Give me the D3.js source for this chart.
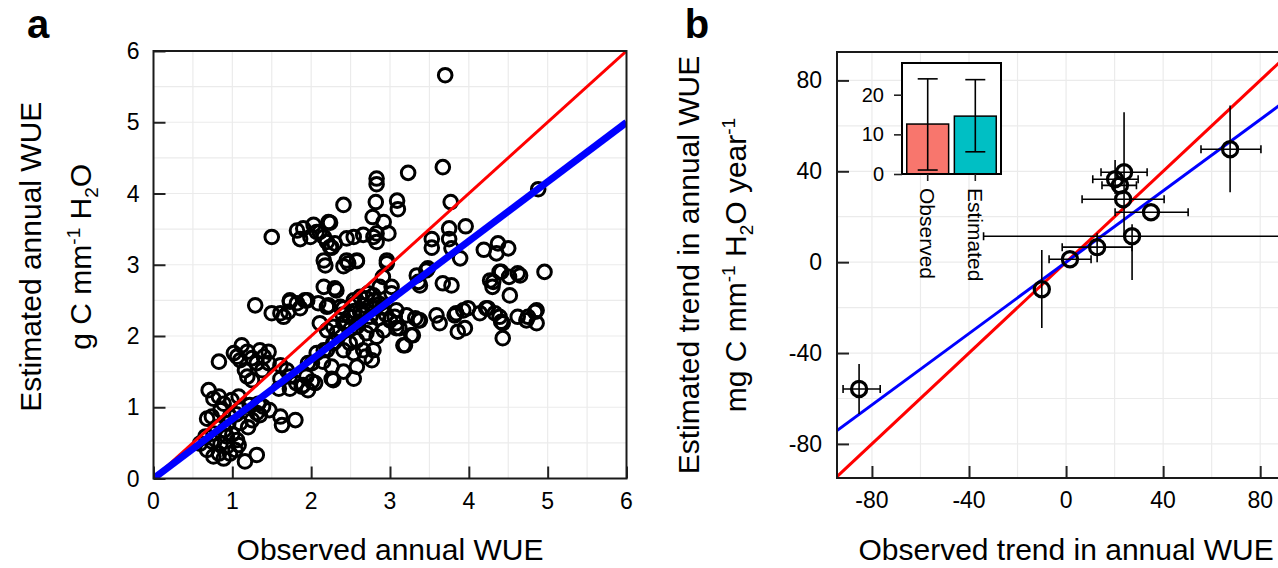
<!DOCTYPE html>
<html><head><meta charset="utf-8">
<script src="https://cdn.jsdelivr.net/npm/d3@7"></script>
<style>
body{margin:0;background:#fff}
svg{display:block}
text{font-family:"Liberation Sans",Arial,Helvetica,sans-serif;fill:#000}
</style>
</head><body>
<svg id="chart" width="1278" height="568"></svg>
<script>
// ---------- Panel a data: [observed, estimated] annual WUE ----------
const annualPoints = [
[3.70,5.66],[3.23,4.29],[3.67,4.37],[2.41,3.84],[2.83,4.21],[2.83,4.13],[2.82,3.88],[3.09,3.90],[3.10,3.78],[3.77,3.88],
[4.88,4.06],[2.78,3.67],[2.92,3.60],[2.24,3.59],[3.96,3.54],[3.75,3.51],[1.50,3.39],[1.82,3.48],[1.86,3.36],[2.03,3.56],
[2.07,3.46],[2.16,3.39],[2.20,3.32],[2.24,3.25],[2.45,3.37],[2.54,3.39],[2.66,3.42],[2.83,3.44],[2.98,3.44],[2.83,3.32],
[3.53,3.36],[3.53,3.24],[3.75,3.36],[3.78,3.23],[4.19,3.21],[4.37,3.30],[4.50,3.23],[4.35,3.16],[2.16,3.06],[2.45,3.06],
[2.58,3.06],[2.96,3.06],[3.89,3.09],[1.90,3.51],[2.11,3.46],[2.22,3.60],[1.99,3.39],[2.30,3.30],[2.26,3.24],[2.79,3.39],
[4.96,2.90],[4.41,2.90],[4.62,2.88],[4.27,2.78],[4.30,2.69],[4.51,2.83],[4.52,2.57],[3.34,2.85],[3.38,2.71],[3.46,2.92],
[3.67,2.74],[3.78,2.71],[3.36,2.76],[3.48,2.95],[4.31,2.76],[4.39,2.90],[4.65,2.85],
[3.08,2.36],[3.21,2.29],[3.36,2.22],[3.59,2.29],[3.63,2.18],[3.82,2.29],[3.99,2.39],[4.14,2.32],[4.24,2.39],[4.39,2.27],
[4.43,2.18],[4.62,2.27],[4.73,2.22],[4.86,2.36],[4.86,2.18],[3.86,2.06],[3.95,2.11],[4.43,1.97],[3.29,2.01],[3.19,1.87],
[3.84,2.32],[4.22,2.39],[4.33,2.32],[4.41,2.20],[4.75,2.27],[4.84,2.34],[3.38,2.22],[3.08,2.18],[3.12,2.11],[3.06,2.27],
[3.32,2.25],[3.93,2.36],
[2.18,2.99],[2.41,2.98],[2.47,3.02],[2.58,3.05],[2.16,2.69],[2.30,2.67],[2.96,3.02],[2.91,2.83],[3.02,2.69],[2.32,2.64],
[2.87,2.69],[3.02,2.60],[2.79,2.57],[2.70,2.53],
[1.29,2.43],[1.50,2.32],[1.61,2.32],[1.73,2.50],[1.82,2.46],[1.95,2.50],[2.09,2.46],[2.22,2.43],[2.37,2.41],[1.71,2.34],
[1.86,2.39],[1.65,2.27],[1.92,2.50],[2.20,2.41],[2.41,2.39],[1.73,2.48],
[3.17,1.87],[3.27,2.01],[3.08,2.11],
[2.41,2.18],[2.58,2.13],[2.70,2.04],[2.83,1.99],[2.92,2.08],[3.00,2.22],[2.75,2.27],[2.49,2.27],[2.62,2.34],[2.79,2.39],
[2.54,2.50],[2.66,2.43],[2.28,2.13],[2.32,2.04],[2.20,2.08],[2.11,2.18],
[2.45,2.20],[2.55,2.35],[2.60,2.20],[2.65,2.30],[2.70,2.35],[2.75,2.15],[2.50,2.10],[2.85,2.25],[2.90,2.40],[2.95,2.30],
[2.62,2.55],[2.72,2.60],[2.80,2.50],[2.87,2.45],[2.40,2.30],[2.55,2.45],
[2.16,1.80],[2.28,1.90],[2.41,1.80],[2.54,1.76],[2.58,1.57],[2.54,1.40],[2.77,1.66],[2.69,1.71],[2.01,1.62],[2.05,1.34],
[2.26,1.40],[2.41,1.50],[1.90,1.31],[1.94,1.43],[1.81,1.34],[2.66,1.80],[2.79,1.80],[2.49,1.90],[2.58,1.94],
[0.83,1.64],[1.02,1.76],[1.12,1.87],[1.19,1.78],[1.10,1.66],[1.25,1.69],[1.35,1.80],[1.40,1.71],[1.46,1.78],[1.31,1.62],
[1.38,1.52],[1.46,1.62],[1.19,1.43],[1.25,1.38],[1.16,1.52],[1.06,1.71],
[1.61,1.59],[1.69,1.52],[1.61,1.40],[1.73,1.43],[1.59,1.26],[1.73,1.26],[1.88,1.29],[1.96,1.24],[2.01,1.36],[1.96,1.62],
[2.07,1.76],[2.15,1.64],[2.28,1.38],[2.26,1.57],[2.20,1.80],[2.30,1.92],
[0.70,1.24],[0.76,1.12],[0.83,1.15],[0.89,1.05],[0.85,0.96],[0.68,0.84],[0.74,0.87],[0.97,0.87],[1.10,0.98],[1.22,1.03],
[1.33,1.05],[1.39,1.01],[1.47,0.96],[1.35,0.89],[1.61,0.87],[1.80,0.82],[1.63,0.75],[1.25,0.82],[1.31,0.92],[1.08,1.15],
[0.99,1.10],
[0.59,0.49],[0.68,0.40],[0.76,0.31],[0.83,0.35],[0.89,0.28],[0.97,0.35],[1.04,0.40],[1.08,0.47],[0.93,0.45],[0.85,0.49],
[0.74,0.52],[0.66,0.59],[0.76,0.63],[0.93,0.59],[1.06,0.54],[1.16,0.24],[1.31,0.33],
[0.80,0.72],[0.90,0.68],[1.00,0.62],[1.10,0.78],[0.95,0.78],[1.20,0.72],[1.05,0.90]
];
const annualTicks = [0,1,2,3,4,5,6];
const annualFitSlope = 0.833;   // blue fitted line (through origin)

// ---------- Panel b data: trends (mg C mm-1 H2O year-1) ----------
const trendObs  = [-85.3, -10.0,  1.6, 12.8, 27.2, 23.9, 20.2, 22.2, 23.5, 35.0, 67.6];
const trendEst  = [-55.8, -11.9,  1.3,  6.6, 11.4, 39.6, 36.5, 33.8, 27.7, 22.0, 49.7];
const trendObsLo= [-91.9, -10.0, -7.0, -1.6,-34.0, 14.4, 11.0, 14.8,  6.6, 20.2, 55.6];
const trendObsHi= [-76.6, -10.0, 10.3, 27.2,140.0, 33.4, 29.7, 29.0, 40.4, 50.3, 80.3];
const trendEstLo= [-66.8, -29.0,  1.3,  0.0, -7.9, 12.0, 30.0, 33.8, 27.7, 22.0, 30.8];
const trendEstHi= [-44.8,   5.3,  1.3, 12.7, 16.7, 66.0, 45.0, 33.8, 27.7, 22.0, 69.0];
const trendTicks = [-80,-40,0,40,80];
const trendFit = {slope: 0.785, intercept: 0};

// ---------- Inset data: mean trend ----------
const insetCats = ["Observed","Estimated"];
const insetMean = [12.6, 14.6];
const insetLo   = [1.0, 5.6];
const insetHi   = [24.0, 23.8];
const insetTicks = [0,10,20];
const insetColors = ["#F8766D","#00BFC4"];

const svg = d3.select("#chart");
const FONT_TICK = 23, FONT_TITLE = 30;

function frameAndGrid(g, x, y, gridX, gridY, x0, x1, y0, y1){
  g.append("g").selectAll("line").data(gridX).join("line")
    .attr("x1",d=>x(d)).attr("x2",d=>x(d)).attr("y1",y0).attr("y2",y1)
    .attr("stroke","#ebebeb").attr("stroke-width",1.2);
  g.append("g").selectAll("line").data(gridY).join("line")
    .attr("y1",d=>y(d)).attr("y2",d=>y(d)).attr("x1",x0).attr("x2",x1)
    .attr("stroke","#ebebeb").attr("stroke-width",1.2);
}

// ================= Panel a =================
{
  const x = d3.scaleLinear().domain([0,6]).range([153.5,626.5]);
  const y = d3.scaleLinear().domain([0,6]).range([478.5,51]);
  const g = svg.append("g");
  const half = d3.range(0.5,6,0.5);
  frameAndGrid(g,x,y,half,half,x(0),x(6),y(0),y(6));

  const clipId="clipA";
  svg.append("clipPath").attr("id",clipId).append("rect")
    .attr("x",x(0)).attr("y",y(6)).attr("width",x(6)-x(0)).attr("height",y(0)-y(6));
  const inner = g.append("g").attr("clip-path",`url(#${clipId})`);

  inner.append("g").selectAll("circle").data(annualPoints).join("circle")
    .attr("cx",d=>x(d[0])).attr("cy",d=>y(d[1])).attr("r",6.8)
    .attr("fill","none").attr("stroke","#000").attr("stroke-width",3);

  inner.append("line").attr("x1",x(0)).attr("y1",y(0)).attr("x2",x(6)).attr("y2",y(6))
    .attr("stroke","#ff0000").attr("stroke-width",3);
  inner.append("line").attr("x1",x(0)).attr("y1",y(0)).attr("x2",x(6)).attr("y2",y(6*annualFitSlope))
    .attr("stroke","#0000ff").attr("stroke-width",7);

  g.append("g").attr("transform",`translate(0,${y(0)})`)
    .call(d3.axisBottom(x).tickValues(annualTicks).tickSize(-12).tickFormat(""))
    .call(a=>{a.select(".domain").remove();a.selectAll("line").attr("stroke","#222").attr("stroke-width",2);});
  g.append("g").attr("transform",`translate(${x(0)},0)`)
    .call(d3.axisLeft(y).tickValues(annualTicks).tickSize(-12).tickFormat(""))
    .call(a=>{a.select(".domain").remove();a.selectAll("line").attr("stroke","#222").attr("stroke-width",2);});

  g.append("rect").attr("x",x(0)).attr("y",y(6)).attr("width",x(6)-x(0)).attr("height",y(0)-y(6))
    .attr("fill","none").attr("stroke","#1a1a1a").attr("stroke-width",2);

  g.append("g").selectAll("text").data(annualTicks).join("text")
    .attr("x",d=>x(d)).attr("y",y(0)+30).attr("text-anchor","middle")
    .attr("font-size",FONT_TICK).text(d=>d);
  g.append("g").selectAll("text").data(annualTicks).join("text")
    .attr("x",x(0)-14).attr("y",d=>y(d)+8).attr("text-anchor","end")
    .attr("font-size",FONT_TICK).text(d=>d);

  g.append("text").attr("x",(x(0)+x(6))/2).attr("y",560).attr("text-anchor","middle")
    .attr("font-size",FONT_TITLE).text("Observed annual WUE");

  const cy=(y(0)+y(6))/2 - 8;
  g.append("text").attr("transform",`translate(41,${cy}) rotate(-90)`).attr("text-anchor","middle")
    .attr("font-size",FONT_TITLE).text("Estimated annual WUE");
  const t2=g.append("text").attr("transform",`translate(91,${cy}) rotate(-90)`).attr("text-anchor","middle")
    .attr("font-size",FONT_TITLE);
  t2.append("tspan").text("g C mm");
  t2.append("tspan").attr("dy",-11).attr("font-size",19).text("-1");
  t2.append("tspan").attr("dy",11).text(" H");
  t2.append("tspan").attr("dy",7).attr("font-size",19).text("2");
  t2.append("tspan").attr("dy",-7).text("O");

  svg.append("text").attr("x",38).attr("y",38).attr("text-anchor","middle")
    .attr("font-size",40).attr("font-weight","bold").text("a");
}

// ================= Panel b =================
{
  const x = d3.scaleLinear().domain([-94.4,95]).range([837,1296.6]);
  const y = d3.scaleLinear().domain([-95,92.5]).range([478,52]);
  const g = svg.append("g");
  const grid = d3.range(-80,81,20);
  frameAndGrid(g,x,y,grid,grid,x(-94.4),x(95),y(-95),y(92.5));

  svg.append("clipPath").attr("id","clipB").append("rect")
    .attr("x",x(-94.4)).attr("y",y(92.5)).attr("width",x(95)-x(-94.4)).attr("height",y(-95)-y(92.5));
  const inner = g.append("g").attr("clip-path","url(#clipB)");

  const xd=x.domain();
  inner.append("line").attr("x1",x(xd[0])).attr("y1",y(xd[0])).attr("x2",x(xd[1])).attr("y2",y(xd[1]))
    .attr("stroke","#ff0000").attr("stroke-width",3);
  inner.append("line").attr("x1",x(xd[0])).attr("y1",y(trendFit.intercept+trendFit.slope*xd[0]))
    .attr("x2",x(xd[1])).attr("y2",y(trendFit.intercept+trendFit.slope*xd[1]))
    .attr("stroke","#0000ff").attr("stroke-width",3);

  const idx=d3.range(trendObs.length);
  const eb=inner.append("g").attr("stroke","#000").attr("stroke-width",1.6);
  idx.forEach(i=>{
    if(trendObsHi[i]-trendObsLo[i]>0.5){
      eb.append("line").attr("x1",x(trendObsLo[i])).attr("x2",x(trendObsHi[i]))
        .attr("y1",y(trendEst[i])).attr("y2",y(trendEst[i]));
      [trendObsLo[i],trendObsHi[i]].forEach(v=>eb.append("line")
        .attr("x1",x(v)).attr("x2",x(v)).attr("y1",y(trendEst[i])-4).attr("y2",y(trendEst[i])+4));
    }
    if(trendEstHi[i]-trendEstLo[i]>0.5){
      eb.append("line").attr("x1",x(trendObs[i])).attr("x2",x(trendObs[i]))
        .attr("y1",y(trendEstLo[i])).attr("y2",y(trendEstHi[i]));
    }
  });
  inner.append("g").selectAll("circle").data(idx).join("circle")
    .attr("cx",i=>x(trendObs[i])).attr("cy",i=>y(trendEst[i])).attr("r",7.6)
    .attr("fill","none").attr("stroke","#000").attr("stroke-width",3.2);

  g.append("g").attr("transform",`translate(0,${y(-95)})`)
    .call(d3.axisBottom(x).tickValues(trendTicks).tickSize(-12).tickFormat(""))
    .call(a=>{a.select(".domain").remove();a.selectAll("line").attr("stroke","#222").attr("stroke-width",2);});
  g.append("g").attr("transform",`translate(${x(-94.4)},0)`)
    .call(d3.axisLeft(y).tickValues(trendTicks).tickSize(-12).tickFormat(""))
    .call(a=>{a.select(".domain").remove();a.selectAll("line").attr("stroke","#222").attr("stroke-width",2);});

  g.append("rect").attr("x",x(-94.4)).attr("y",y(92.5)).attr("width",x(95)-x(-94.4)).attr("height",y(-95)-y(92.5))
    .attr("fill","none").attr("stroke","#1a1a1a").attr("stroke-width",2);

  g.append("g").selectAll("text").data(trendTicks).join("text")
    .attr("x",d=>x(d)).attr("y",y(-95)+30).attr("text-anchor","middle")
    .attr("font-size",FONT_TICK).text(d=>d);
  g.append("g").selectAll("text").data(trendTicks).join("text")
    .attr("x",x(-94.4)-15).attr("y",d=>y(d)+8).attr("text-anchor","end")
    .attr("font-size",FONT_TICK).text(d=>d);

  g.append("text").attr("x",x(0)).attr("y",560).attr("text-anchor","middle")
    .attr("font-size",FONT_TITLE).text("Observed trend in annual WUE");

  const cy=(y(-95)+y(92.5))/2;
  g.append("text").attr("transform",`translate(699,${cy}) rotate(-90)`).attr("text-anchor","middle")
    .attr("font-size",FONT_TITLE).text("Estimated trend in annual WUE");
  const t2=g.append("text").attr("transform",`translate(746,${cy}) rotate(-90)`).attr("text-anchor","middle")
    .attr("font-size",FONT_TITLE);
  t2.append("tspan").text("mg C mm");
  t2.append("tspan").attr("dy",-11).attr("font-size",19).text("-1");
  t2.append("tspan").attr("dy",11).text(" H");
  t2.append("tspan").attr("dy",7).attr("font-size",19).text("2");
  t2.append("tspan").attr("dy",-7).text("O year");
  t2.append("tspan").attr("dy",-11).attr("font-size",19).text("-1");

  svg.append("text").attr("x",697).attr("y",38).attr("text-anchor","middle")
    .attr("font-size",40).attr("font-weight","bold").text("b");

  // ----- inset bar chart -----
  const ix = d3.scaleBand().domain(insetCats).range([902,1001]).paddingInner(0.12).paddingOuter(0.1);
  const iy = d3.scaleLinear().domain([0,28]).range([174,63]);
  const ig = svg.append("g");
  ig.append("rect").attr("x",902).attr("y",iy(28)).attr("width",99).attr("height",iy(0)-iy(28))
    .attr("fill","#fff");
  ig.append("g").selectAll("rect").data(insetCats).join("rect")
    .attr("x",d=>ix(d)).attr("width",ix.bandwidth())
    .attr("y",(d,i)=>iy(insetMean[i])).attr("height",(d,i)=>iy(0)-iy(insetMean[i]))
    .attr("fill",(d,i)=>insetColors[i]).attr("stroke","#000").attr("stroke-width",1.5);
  const ie=ig.append("g").attr("stroke","#000").attr("stroke-width",1.6);
  insetCats.forEach((c,i)=>{
    const cx=ix(c)+ix.bandwidth()/2;
    ie.append("line").attr("x1",cx).attr("x2",cx).attr("y1",iy(insetLo[i])).attr("y2",iy(insetHi[i]));
    [insetLo[i],insetHi[i]].forEach(v=>ie.append("line").attr("x1",cx-10).attr("x2",cx+10).attr("y1",iy(v)).attr("y2",iy(v)));
  });
  ig.append("rect").attr("x",902).attr("y",iy(28)).attr("width",99).attr("height",iy(0)-iy(28))
    .attr("fill","none").attr("stroke","#000").attr("stroke-width",2);
  ig.append("g").attr("transform","translate(902,0)")
    .call(d3.axisLeft(iy).tickValues(insetTicks).tickSize(8).tickFormat(""))
    .call(a=>{a.select(".domain").remove();a.selectAll("line").attr("stroke","#222").attr("stroke-width",1.6);});
  ig.append("g").attr("transform",`translate(0,${iy(0)})`)
    .call(d3.axisBottom(ix).tickSize(7).tickFormat(""))
    .call(a=>{a.select(".domain").remove();a.selectAll("line").attr("stroke","#222").attr("stroke-width",1.6);});
  ig.append("g").selectAll("text").data(insetTicks).join("text")
    .attr("x",884).attr("y",d=>iy(d)+7).attr("text-anchor","end").attr("font-size",20).text(d=>d);
  ig.append("g").selectAll("text").data(insetCats).join("text")
    .attr("transform",d=>`translate(${ix(d)+ix.bandwidth()/2},188) rotate(90)`)
    .attr("dy","0.35em").attr("font-size",21).text(d=>d);
}
</script>
</body></html>
